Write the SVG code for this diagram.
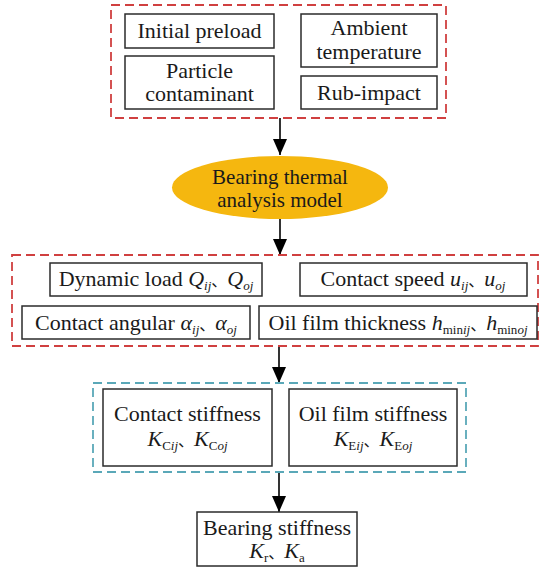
<svg xmlns="http://www.w3.org/2000/svg" width="540" height="570" viewBox="0 0 540 570">
<defs>
<style>
text{font-family:'Liberation Serif','DejaVu Serif',serif;font-size:22px;fill:#1a1a1a;text-anchor:middle}
.box{fill:#ffffff;stroke:#2b2b2b;stroke-width:1.5}
.red{fill:none;stroke:#d04040;stroke-width:1.8;stroke-dasharray:9 5}
.blue{fill:none;stroke:#5aa8b8;stroke-width:1.8;stroke-dasharray:9 5}
.i{font-style:italic}
.s{font-size:13px}
.c{font-family:'Noto Sans CJK SC',sans-serif;font-size:16px}
</style>
<marker id="ah" markerWidth="16" markerHeight="14" refX="16" refY="7" orient="auto" markerUnits="userSpaceOnUse" viewBox="0 0 16 14">
<path d="M0,0 L16,7 L0,14 Z" fill="#000"/>
</marker>
</defs>
<rect x="0" y="0" width="540" height="570" fill="#ffffff"/>

<g id="connectors" stroke="#000" stroke-width="1.6" fill="none">
<line x1="280" y1="118" x2="280" y2="155" marker-end="url(#ah)"/>
<line x1="280" y1="219" x2="280" y2="255" marker-end="url(#ah)"/>
<line x1="279" y1="346" x2="279" y2="383" marker-end="url(#ah)"/>
<line x1="279" y1="472" x2="279" y2="512" marker-end="url(#ah)"/>
</g>

<g id="group-factors">
<rect class="red" x="111" y="5" width="335" height="113"/>
</g>
<g id="initial-preload">
<rect class="box" x="125" y="14" width="149" height="34"/>
<text x="199.5" y="38">Initial preload</text>
</g>
<g id="particle-contaminant">
<rect class="box" x="125" y="56" width="149" height="53"/>
<text x="199.5" y="78">Particle</text>
<text x="199.5" y="101">contaminant</text>
</g>
<g id="ambient-temperature">
<rect class="box" x="301" y="14" width="136" height="53"/>
<text x="369" y="35">Ambient</text>
<text x="369" y="59">temperature</text>
</g>
<g id="rub-impact">
<rect class="box" x="301" y="76" width="136" height="33"/>
<text x="369" y="100">Rub-impact</text>
</g>

<g id="thermal-model">
<ellipse cx="280" cy="187.5" rx="108" ry="31.5" fill="#f5b70f"/>
<text x="280" y="184" style="font-size:21px">Bearing thermal</text>
<text x="280" y="207" style="font-size:21px">analysis model</text>
</g>

<g id="group-params">
<rect class="red" x="12" y="255" width="526" height="91"/>
</g>
<g id="dynamic-load">
<rect class="box" x="50" y="263" width="212" height="33"/>
<text x="156" y="286">Dynamic load  <tspan class="i">Q</tspan><tspan class="i s" dy="4">ij</tspan><tspan class="c" dy="-4">、</tspan><tspan class="i">Q</tspan><tspan class="i s" dy="4">oj</tspan></text>
</g>
<g id="contact-speed">
<rect class="box" x="300" y="263" width="227" height="33"/>
<text x="413" y="286">Contact speed <tspan class="i">u</tspan><tspan class="i s" dy="4">ij</tspan><tspan class="c" dy="-4">、</tspan><tspan class="i">u</tspan><tspan class="i s" dy="4">oj</tspan></text>
</g>
<g id="contact-angular">
<rect class="box" x="22" y="306" width="228" height="33"/>
<text x="136" y="330">Contact angular <tspan class="i">α</tspan><tspan class="i s" dy="4">ij</tspan><tspan class="c" dy="-4">、</tspan><tspan class="i">α</tspan><tspan class="i s" dy="4">oj</tspan></text>
</g>
<g id="oil-film-thickness">
<rect class="box" x="259" y="306" width="278" height="33"/>
<text x="398" y="330">Oil film thickness <tspan class="i">h</tspan><tspan class="s" dy="4">min</tspan><tspan class="i s">ij</tspan><tspan class="c" dy="-4">、</tspan><tspan class="i">h</tspan><tspan class="s" dy="4">min</tspan><tspan class="i s">oj</tspan></text>
</g>

<g id="group-stiffness">
<rect class="blue" x="93" y="383" width="373" height="89"/>
</g>
<g id="contact-stiffness">
<rect class="box" x="103" y="389" width="169" height="77"/>
<text x="187.5" y="421">Contact stiffness</text>
<text x="187.5" y="446"><tspan class="i">K</tspan><tspan class="s" dy="4">C</tspan><tspan class="i s">ij</tspan><tspan class="c" dy="-4">、</tspan><tspan class="i">K</tspan><tspan class="s" dy="4">C</tspan><tspan class="i s">oj</tspan></text>
</g>
<g id="oil-film-stiffness">
<rect class="box" x="289" y="389" width="168" height="77"/>
<text x="373" y="421">Oil film stiffness</text>
<text x="373" y="446"><tspan class="i">K</tspan><tspan class="s" dy="4">E</tspan><tspan class="i s">ij</tspan><tspan class="c" dy="-4">、</tspan><tspan class="i">K</tspan><tspan class="s" dy="4">E</tspan><tspan class="i s">oj</tspan></text>
</g>

<g id="bearing-stiffness">
<rect class="box" x="197" y="512" width="160" height="54"/>
<text x="277" y="535">Bearing stiffness</text>
<text x="277" y="558"><tspan class="i">K</tspan><tspan class="s" dy="4">r</tspan><tspan class="c" dy="-4">、</tspan><tspan class="i">K</tspan><tspan class="s" dy="4">a</tspan></text>
</g>
</svg>
